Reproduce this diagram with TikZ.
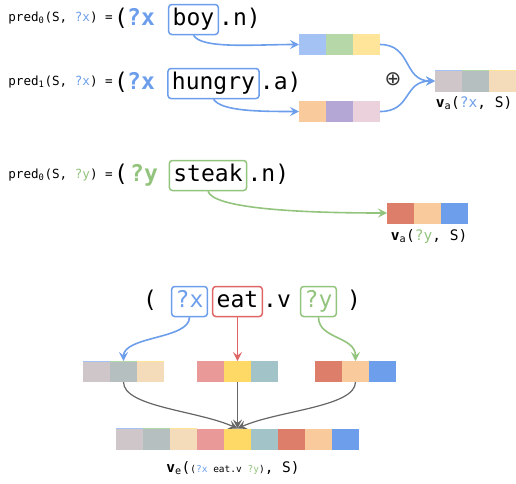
\documentclass[tikz,border=0pt]{standalone}
\usepackage{fontspec}
\setmainfont{DejaVu Sans Mono}
\newfontfamily\symfont{DejaVu Sans}
\usepackage{tikz}
\usetikzlibrary{positioning,calc,arrows.meta}

\definecolor{eblue}{HTML}{6D9EEB}
\definecolor{egreen}{HTML}{93C47D}
\definecolor{ered}{HTML}{E06666}
\definecolor{egrey}{HTML}{666666}
\definecolor{vb1}{HTML}{A4C2F4}
\definecolor{vb2}{HTML}{B6D7A8}
\definecolor{vb3}{HTML}{FFE599}
\definecolor{vh1}{HTML}{F9CB9C}
\definecolor{vh2}{HTML}{B4A7D6}
\definecolor{vh3}{HTML}{EAD1DC}
\definecolor{mx1}{HTML}{CEC6C8}
\definecolor{mx2}{HTML}{B5BFBF}
\definecolor{mx3}{HTML}{F4DBBA}
\definecolor{ve1}{HTML}{EA9999}
\definecolor{ve2}{HTML}{FFD966}
\definecolor{ve3}{HTML}{A2C4C9}
\definecolor{vs1}{HTML}{DD7E6B}
\definecolor{vs2}{HTML}{F9CB9C}
\definecolor{vs3}{HTML}{6D9EEB}

\begin{document}
\begin{tikzpicture}[
x=1pt, y=-1pt,
big/.style={font=\fontsize{23}{24}\selectfont, inner sep=0pt, anchor=base},
var/.style={big, font=\fontsize{23}{24}\selectfont\bfseries},
small/.style={font=\fontsize{12.6}{13}\selectfont, inner sep=0pt, anchor=base east},
word/.style={big, draw, rounded corners=3pt, line width=1.5pt, text height=17pt, text depth=6pt, inner xsep=4pt, inner ysep=3.5pt},
cell/.style={rectangle, minimum width=27pt, minimum height=21pt, inner sep=0pt, outer sep=0pt},
link/.style={->, line width=1.6pt},
back/.style={->, egrey, line width=1.2pt},
lbl/.style={font=\fontsize{14.5}{15}\selectfont, inner sep=0pt, anchor=base},
>={Stealth[length=9pt,width=9pt,inset=3.5pt]}
]
	\useasboundingbox (0,0) rectangle (516,483);

	% boy
	\node[small] at (113,21) (predboy) {pred\textsubscript{0}(S, \textcolor{eblue}{?x}) =};
	\node[big] at (121,25) (lpboy) {(};
	\node[var, text=eblue] at (141,25) (xboy) {?x};
	\node[word, draw=eblue] at (193.5,25) (boy) {boy};
	\node[big, anchor=base west] at (boy.base east) (boyn) {.n)};
	\foreach \c [count=\i] in {vb1,vb2,vb3}
		\node[cell, fill=\c] at (285.5+27*\i,44.5) (boyv\i) {};
	\draw[link, eblue] (boy.south) .. controls +(8,14) and +(-45,0) .. (boyv1.west);

	% hungry
	\node[small] at (113,85) (predhungry) {pred\textsubscript{1}(S, \textcolor{eblue}{?x}) =};
	\node[big] at (121,89) (lphungry) {(};
	\node[var, text=eblue] at (141,89) (xhungry) {?x};
	\node[word, draw=eblue] at (213.5,89) (hungry) {hungry};
	\node[big, anchor=base west] at (hungry.base east) (hungrya) {.a)};
	\foreach \c [count=\i] in {vh1,vh2,vh3}
		\node[cell, fill=\c] at (285.5+27*\i,111.5) (hungryv\i) {};
	\draw[link, eblue] (hungry.south) .. controls +(8,12) and +(-40,0) .. (hungryv1.west);

	% merged ?x
	\node at (393,79) (plus) {\symfont\fontsize{20}{20}\selectfont\textcolor{black!80}{⊕}};
	\foreach \c/\t [count=\i] in {mx1/vb1,mx2/vb2,mx3/vb3} {
		\node[cell, fill=\c] at (421.5+27*\i,81) (xv\i) {};
		\draw[\t, line width=1pt] (xv\i.north west) -- (xv\i.north east);
	}
	\draw[link, eblue] (boyv3.east) .. controls +(32,0) and +(-32,0) .. (xv1.west);
	\draw[link, eblue] (hungryv3.east) .. controls +(32,0) and +(-32,0) .. (xv1.west);
	\node[lbl] at (474,107) (xlbl) {\textbf{v}\textsubscript{a}(\textcolor{eblue}{?x}, S)};

	% steak
	\node[small] at (113,178) (predsteak) {pred\textsubscript{0}(S, \textcolor{egreen}{?y}) =};
	\node[big] at (121,181) (lpsteak) {(};
	\node[var, text=egreen] at (144,181) (ysteak) {?y};
	\node[word, draw=egreen] at (208,181) (steak) {steak};
	\node[big, anchor=base west] at (steak.base east) (steakn) {.n)};
	\foreach \c [count=\i] in {vs1,vs2,vs3}
		\node[cell, fill=\c] at (373.5+27*\i,213) (steakv\i) {};
	\draw[link, egreen] (steak.south) .. controls +(5,16) and +(-100,0) .. (steakv1.west);
	\node[lbl] at (429,240) (ylbl) {\textbf{v}\textsubscript{a}(\textcolor{egreen}{?y}, S)};

	% eat
	\node[big] at (150,307) (lpeat) {(};
	\node[word, draw=eblue, text=eblue] at (189.5,307) (ex) {?x};
	\node[word, draw=ered] at (237.5,307) (eat) {eat};
	\node[big, anchor=base west] at (eat.base east) (eatv) {.v};
	\node[word, draw=egreen, text=egreen] at (318.5,307) (ey) {?y};
	\node[big] at (354,307) (rpeat) {)};

	\foreach \c/\t [count=\i] in {mx1/vb1,mx2/vb2,mx3/vb3} {
		\node[cell, fill=\c] at (69.5+27*\i,371.5) (av\i) {};
		\draw[\t, line width=1pt] (av\i.north west) -- (av\i.north east);
	}
	\foreach \c [count=\i] in {ve1,ve2,ve3}
		\node[cell, fill=\c] at (183.5+27*\i,371.5) (bv\i) {};
	\foreach \c [count=\i] in {vs1,vs2,vs3}
		\node[cell, fill=\c] at (301.5+27*\i,371.5) (cv\i) {};

	\draw[link, eblue] (ex.south) .. controls +(0,22) and +(0,-25) .. (av2.north);
	\draw[link, ered] (eat.south) -- (bv2.north);
	\draw[link, egreen] (ey.south) .. controls +(0,22) and +(0,-25) .. (cv2.north);

	% v_e
	\foreach \c [count=\i] in {mx1,mx2,mx3,ve1,ve2,ve3,vs1,vs2,vs3}
		\node[cell, fill=\c] at (102.5+27*\i,439) (ev\i) {};
	\foreach \t [count=\i] in {vb1,vb2,vb3}
		\draw[\t, line width=1pt] (ev\i.north west) -- (ev\i.north east);

	\draw[back] (av2.south) .. controls +(0,25) and +(-40,-18) .. (ev5.north);
	\draw[back] (bv2.south) -- (ev5.north);
	\draw[back] (cv2.south) .. controls +(0,25) and +(40,-18) .. (ev5.north);
	\node[lbl] at (233,472) (elbl) {\textbf{v}\textsubscript{e}({\fontsize{9.5}{10}\selectfont(\textcolor{eblue}{?x} eat.v \textcolor{egreen}{?y})}, S)};
\end{tikzpicture}
\end{document}
